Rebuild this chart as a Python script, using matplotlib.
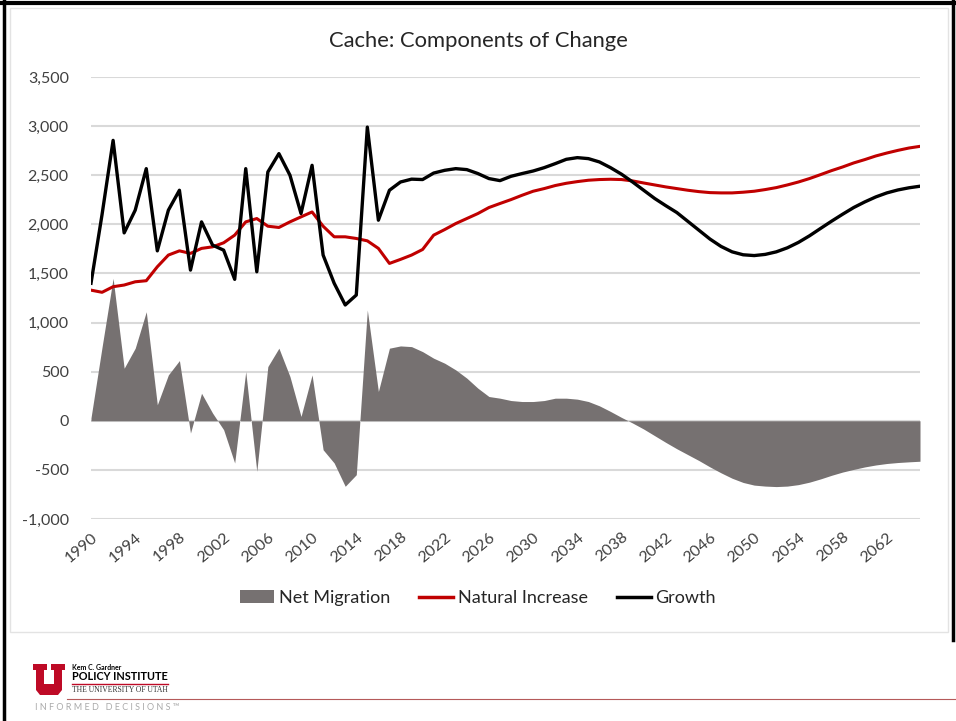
import numpy as np
import matplotlib.pyplot as plt
from matplotlib.patches import Patch, Polygon, Rectangle
from matplotlib.lines import Line2D

# Cache county: components of change, 1990-2065
years = list(range(1990, 2066))

growth = [1400, 2100, 2855, 1913, 2144, 2567, 1730, 2144, 2347, 1534,
          2025, 1788, 1737, 1440, 2567, 1517, 2533, 2720, 2500, 2110,
          2601, 1687, 1400, 1179, 1280, 2990, 2042, 2347, 2431, 2460,
          2456, 2522, 2550, 2567, 2557, 2517, 2466, 2445, 2489, 2517,
          2543, 2577, 2618, 2662, 2679, 2669, 2635, 2577, 2510, 2431,
          2347, 2263, 2190, 2120, 2030, 1940, 1850, 1775, 1720, 1690,
          1682, 1694, 1720, 1761, 1816, 1883, 1958, 2032, 2103, 2171,
          2228, 2279, 2320, 2350, 2372, 2388]

natural = [1330, 1308, 1365, 1382, 1415, 1426, 1568, 1687, 1730, 1704,
           1755, 1771, 1812, 1890, 2025, 2059, 1981, 1968, 2025, 2076,
           2126, 1981, 1873, 1873, 1856, 1832, 1755, 1602, 1643, 1687,
           1744, 1890, 1947, 2008, 2059, 2110, 2171, 2212, 2252, 2296,
           2337, 2364, 2395, 2418, 2435, 2449, 2456, 2459, 2456, 2442,
           2421, 2401, 2381, 2364, 2347, 2333, 2323, 2320, 2320, 2327,
           2337, 2354, 2374, 2401, 2431, 2466, 2506, 2547, 2584, 2625,
           2659, 2696, 2726, 2753, 2777, 2794]

net_migration = [30, 750, 1450, 535, 739, 1110, 163, 467, 613, -125,
                 280, 78, -91, -430, 501, -515, 552, 739, 450, 44,
                 467, -295, -430, -667, -549, 1128, 298, 739, 762, 755,
                 704, 637, 586, 518, 434, 332, 247, 230, 206, 196,
                 196, 206, 230, 230, 220, 196, 152, 95, 34, -23,
                 -84, -152, -220, -285, -345, -405, -470, -530, -585, -628,
                 -655, -665, -670, -665, -650, -625, -592, -555, -522, -495,
                 -470, -450, -435, -425, -418, -412]

tick_years = list(range(1990, 2063, 4))

W, H = 956, 721
fig = plt.figure(figsize=(W / 100, H / 100), dpi=100)
plt.rcParams['font.family'] = ['Lato', 'DejaVu Sans']


def fx(x):
    return x / W


def fy(y):
    return 1 - y / H


ax = fig.add_axes([fx(91), fy(519), fx(920) - fx(91), fy(77) - fy(519)])

ax.fill_between(years, net_migration, 0, color='#767171', linewidth=0, zorder=2)
ax.plot(years, natural, color='#C00000', linewidth=2.2, zorder=3)
ax.plot(years, growth, color='black', linewidth=2.4, zorder=4)

ax.set_xlim(1990, 2065)
ax.set_ylim(-1000, 3500)
ax.set_yticks(range(-1000, 3501, 500))
ax.set_yticklabels([f'{v:,}' for v in range(-1000, 3501, 500)])
ax.set_xticks(tick_years)
ax.set_xticklabels([str(y) for y in tick_years], rotation=40, ha='right',
                   rotation_mode='anchor')
ax.tick_params(axis='both', length=0, labelsize=11.5, colors='#404040')
ax.tick_params(axis='y', pad=16)
ax.tick_params(axis='x', pad=8)
ax.grid(axis='y', color='#D9D9D9', linewidth=1.5, zorder=0)
ax.set_axisbelow(True)
for s in ax.spines.values():
    s.set_visible(False)

fig.text(0.5, fy(41), 'Cache: Components of Change', ha='center', va='center',
         fontsize=15.8, color='#262626')

handles = [Patch(facecolor='#767171', edgecolor='none'),
           Line2D([], [], color='#C00000', linewidth=2.5),
           Line2D([], [], color='black', linewidth=2.5)]
fig.legend(handles, ['Net Migration', 'Natural Increase', 'Growth'],
           loc='center', bbox_to_anchor=(0.5, fy(598)), ncol=3, frameon=False,
           fontsize=13, handlelength=1.9, handletextpad=0.25, columnspacing=1.6,
           labelcolor='#262626')

# slide frame
fig.add_artist(Rectangle((fx(10), fy(632)), fx(948) - fx(10), fy(8) - fy(632),
                         transform=fig.transFigure, fill=False,
                         edgecolor='#E3E3E3', linewidth=1))
fig.add_artist(Line2D([fx(4), fx(4)], [0, 1], transform=fig.transFigure,
                      color='black', linewidth=2.5))
fig.add_artist(Line2D([0, 1], [fy(3), fy(3)], transform=fig.transFigure,
                      color='black', linewidth=3))
fig.add_artist(Line2D([fx(953), fx(953)], [fy(640), 1], transform=fig.transFigure,
                      color='black', linewidth=2.5))

# institute logo
u_pts = [(33, 664), (47, 664), (47, 670), (44, 670), (44, 684), (54, 684),
         (54, 670), (51, 670), (51, 664), (65, 664), (65, 670), (62, 670),
         (62, 690), (58, 695), (40, 695), (36, 690), (36, 670), (33, 670)]
fig.add_artist(Polygon([(fx(x), fy(y)) for x, y in u_pts], closed=True,
                       transform=fig.transFigure, facecolor='#BE0A26',
                       edgecolor='none'))
fig.text(fx(72), fy(667), 'Kem C. Gardner', fontsize=5, fontweight='bold',
         va='center', color='black')
fig.text(fx(72), fy(677), 'POLICY INSTITUTE', fontsize=7.8, fontweight='bold',
         va='center', color='black')
fig.add_artist(Line2D([fx(72), fx(168)], [fy(684), fy(684)],
                      transform=fig.transFigure, color='#BE0A26', linewidth=1))
fig.text(fx(72), fy(690), 'THE UNIVERSITY OF UTAH', fontsize=5.5,
         family='Liberation Serif', va='center', color='#333333')
fig.add_artist(Line2D([fx(67), 1], [fy(699), fy(699)],
                      transform=fig.transFigure, color='#B55A5A', linewidth=0.8))
fig.text(fx(35), fy(708), 'I N F O R M E D   D E C I S I O N S ™', fontsize=6.5,
         va='center', color='#AAAAAA')

fig.savefig('out.png', dpi=100)
